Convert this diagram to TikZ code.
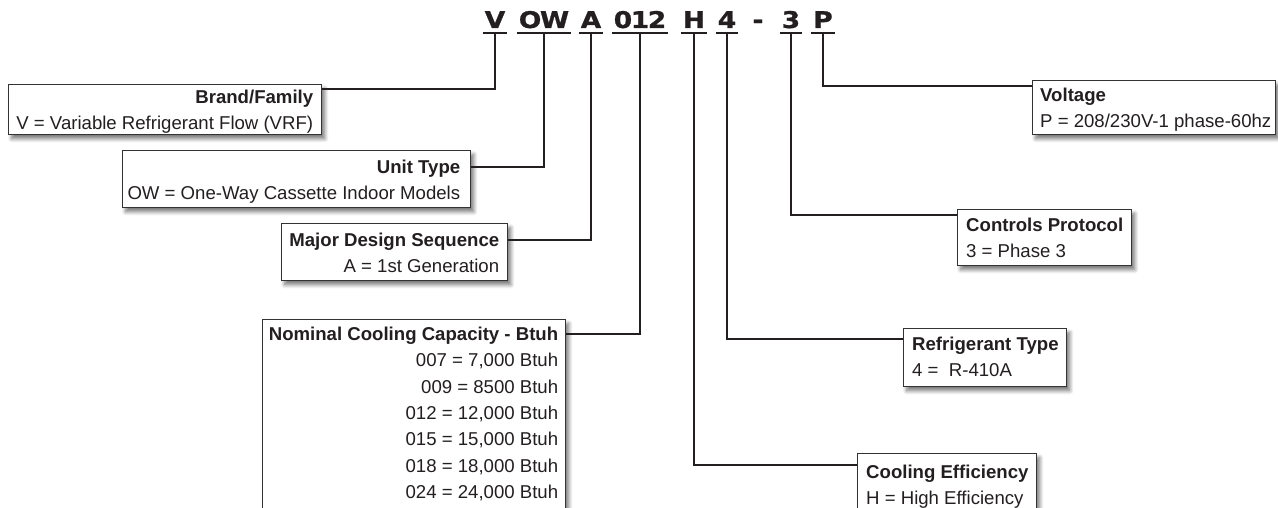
\documentclass[tikz,border=0pt]{standalone}
\usepackage{fontspec}
\setmainfont{Liberation Sans}
\newfontfamily\codefont[FakeStretch=1.15, LetterSpace=-6, FakeBold=1]{DejaVu Sans}
\usetikzlibrary{shadows.blur}
\definecolor{ink}{HTML}{231F20}
\definecolor{frame}{HTML}{333333}
\begin{document}
\begin{tikzpicture}[x=1pt,y=-1pt,
  box/.style={draw=frame, line width=1.4pt, fill=white,
    blur shadow={shadow xshift=3pt, shadow yshift=-4pt, shadow blur steps=7, shadow blur radius=4pt, shadow opacity=55},
    inner sep=0pt, anchor=north west},
  txt/.style={inner sep=0pt, text=ink, font=\fontsize{18.6}{26.3}\selectfont},
  conn/.style={draw=ink, line width=2.4pt, line join=miter},
  code/.style={inner sep=0pt, inner xsep=2pt, anchor=base, text=ink,
    font=\codefont\bfseries\fontsize{23}{23}\selectfont},
  uline/.style={draw=ink, line width=2pt}]
\useasboundingbox (0,0) rectangle (1278,508);

% model code
\node[code] (cV)  at (495,28) {V};
\node[code] (cOW) at (544,28) {OW};
\node[code] (cA)  at (591,28) {A};
\node[code] (c012) at (640,28) {012};
\node[code] (cH)  at (694,28) {H};
\node[code] (c4)  at (727,28) {4};
\node[code] (cDash) at (758,28) {-};
\node[code] (c3)  at (791,28) {3};
\node[code] (cP)  at (823,28) {P};
\foreach \n in {cV,cOW,cA,c012,cH,c4,c3,cP}{
  \draw[uline] ([yshift=-5pt]\n.base west) -- ([yshift=-5pt]\n.base east);
}

% left boxes
\node[box, minimum width=313pt, minimum height=50pt] (brand) at (8,84) {};
\node[txt, anchor=north east, align=right] (brandT) at ([xshift=-9pt,yshift=-6pt]brand.north east)
  {\textbf{Brand/Family}\\V = Variable Refrigerant Flow (VRF)};

\node[box, minimum width=348pt, minimum height=57pt] (unit) at (122,150) {};
\node[txt, anchor=north east, align=right] (unitT) at ([xshift=-11pt,yshift=-10pt]unit.north east)
  {\textbf{Unit Type}\\OW = One-Way Cassette Indoor Models};

\node[box, minimum width=226pt, minimum height=57pt] (major) at (281,223) {};
\node[txt, anchor=north east, align=right] (majorT) at ([xshift=-9pt,yshift=-10pt]major.north east)
  {\textbf{Major Design Sequence}\\A = 1st Generation};

\node[box, minimum width=303pt, minimum height=220pt] (nom) at (262,319) {};
\node[txt, anchor=north east, align=right] (nomT) at ([xshift=-8pt,yshift=-8pt]nom.north east)
  {\textbf{Nominal Cooling Capacity - Btuh}\\007 = 7,000 Btuh\\009 = 8500 Btuh\\012 = 12,000 Btuh\\015 = 15,000 Btuh\\018 = 18,000 Btuh\\024 = 24,000 Btuh};

% right boxes
\node[box, minimum width=243pt, minimum height=54pt] (volt) at (1032,80) {};
\node[txt, anchor=north west, align=left] (voltT) at ([xshift=8pt,yshift=-8pt]volt.north west)
  {\textbf{Voltage}\\P = 208/230V-1 phase-60hz};

\node[box, minimum width=174pt, minimum height=56pt] (ctrl) at (957,209) {};
\node[txt, anchor=north west, align=left] (ctrlT) at ([xshift=9pt,yshift=-9pt]ctrl.north west)
  {\textbf{Controls Protocol}\\3 = Phase 3};

\node[box, minimum width=163pt, minimum height=58pt] (refr) at (903,328) {};
\node[txt, anchor=north west, align=left] (refrT) at ([xshift=9pt,yshift=-9pt]refr.north west)
  {\textbf{Refrigerant Type}\\4 = \ R-410A};

\node[box, minimum width=179pt, minimum height=100pt] (cool) at (857,453) {};
\node[txt, anchor=north west, align=left] (coolT) at ([xshift=9pt,yshift=-12pt]cool.north west)
  {\textbf{Cooling Efficiency}\\H = High Efficiency};

% connectors
\draw[conn] ([yshift=-5pt]cV.base)   |- ([yshift=-5pt]brand.north east);
\draw[conn] ([yshift=-5pt]cOW.base)  |- ([yshift=-17pt]unit.north east);
\draw[conn] ([yshift=-5pt]cA.base)   |- ([yshift=-17pt]major.north east);
\draw[conn] ([yshift=-5pt]c012.base) |- ([yshift=-15pt]nom.north east);
\draw[conn] ([yshift=-5pt]cP.base)   |- ([yshift=-6pt]volt.north west);
\draw[conn] ([yshift=-5pt]c3.base)   |- ([yshift=-6pt]ctrl.north west);
\draw[conn] ([yshift=-5pt]c4.base)   |- ([yshift=-11pt]refr.north west);
\draw[conn] ([yshift=-5pt]cH.base)   |- ([yshift=-12pt]cool.north west);
\end{tikzpicture}
\end{document}
